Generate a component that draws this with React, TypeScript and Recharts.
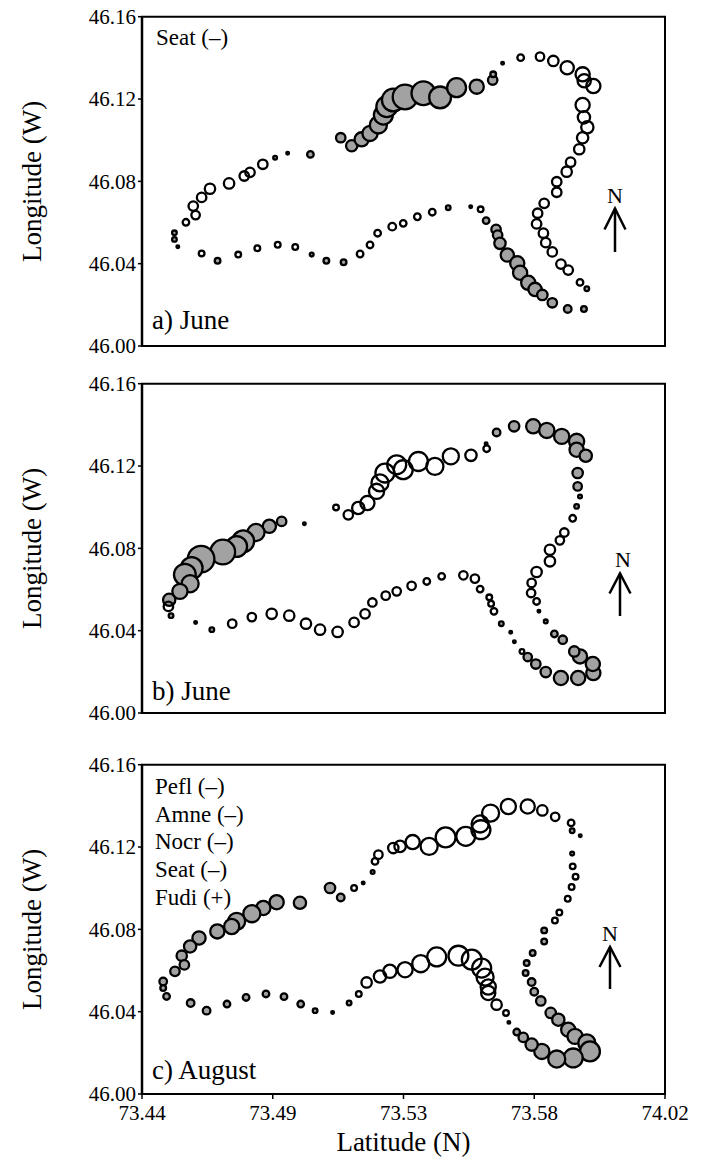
import React from "react";
import { ScatterChart, Scatter, XAxis, YAxis, ZAxis, ReferenceArea } from "recharts";

// ---- axis ticks ----
const xTickValues = [73.44, 73.49, 73.54, 73.59, 73.64];
const xTickLabels = ["73.44", "73.49", "73.53", "73.58", "74.02"];
const yTickValues = [46.0, 46.04, 46.08, 46.12, 46.16];
const yTickLabels = ["46.00", "46.04", "46.08", "46.12", "46.16"];

// ---- data: [latitude, longitude, abundance] ----
// a) June  (Seat)
const juneAFilled: number[][] = [
  [73.4524, 46.055, 6], [73.4524, 46.0518, 6], [73.4537, 46.0482, 2],
  [73.4909, 46.0915, 4], [73.4957, 46.0936, 2], [73.5044, 46.0931, 12],
  [73.516, 46.1012, 25], [73.5202, 46.0973, 36], [73.524, 46.1004, 56],
  [73.5272, 46.1033, 64], [73.5304, 46.1074, 81], [73.5323, 46.1122, 100],
  [73.5336, 46.1163, 121], [73.5361, 46.1195, 144], [73.5406, 46.121, 169],
  [73.5476, 46.1228, 156], [73.554, 46.1208, 132], [73.5603, 46.1255, 100],
  [73.568, 46.126, 56], [73.5741, 46.1292, 25], [73.5743, 46.132, 9],
  [73.5779, 46.1374, 2],
  [73.5571, 46.0672, 6], [73.5657, 46.0677, 2], [73.5716, 46.0609, 12],
  [73.5754, 46.0567, 25], [73.576, 46.0539, 25], [73.5769, 46.0499, 36],
  [73.5797, 46.0442, 49], [73.5835, 46.0402, 56], [73.5846, 46.0356, 56],
  [73.5877, 46.0307, 56], [73.5903, 46.0275, 49], [73.5931, 46.0248, 30],
  [73.5969, 46.021, 25], [73.6028, 46.018, 16], [73.609, 46.018, 9],
  [73.6101, 46.0278, 6],
  [73.5049, 46.0444, 4], [73.5105, 46.0414, 9], [73.5171, 46.0407, 9],
  [73.4689, 46.0414, 9],
];
const juneAOpen: number[][] = [
  [73.4568, 46.0601, 12], [73.4605, 46.0636, 20], [73.4596, 46.068, 25],
  [73.4628, 46.0722, 25], [73.466, 46.0764, 30], [73.4733, 46.079, 30],
  [73.4791, 46.0826, 25], [73.4813, 46.0844, 25], [73.4862, 46.0883, 25],
  [73.5848, 46.1401, 12], [73.5922, 46.1406, 20], [73.5973, 46.1385, 30],
  [73.6026, 46.1352, 49], [73.6085, 46.132, 56], [73.6091, 46.1289, 49],
  [73.6126, 46.1263, 56], [73.6085, 46.1171, 56], [73.609, 46.1111, 42],
  [73.6103, 46.1063, 42], [73.6085, 46.1012, 36], [73.6072, 46.0956, 30],
  [73.6039, 46.0893, 25], [73.6024, 46.0847, 30], [73.5986, 46.0798, 25],
  [73.5986, 46.0747, 25], [73.5938, 46.0693, 25], [73.5913, 46.0645, 25],
  [73.5909, 46.0593, 25], [73.5935, 46.0548, 25], [73.5944, 46.0502, 25],
  [73.5969, 46.0457, 25], [73.6002, 46.0398, 25], [73.603, 46.0369, 25],
  [73.6075, 46.0309, 12],
  [73.4628, 46.045, 9], [73.4768, 46.0444, 9], [73.4841, 46.0475, 9],
  [73.4919, 46.0492, 9], [73.4986, 46.0481, 9], [73.5234, 46.0447, 12],
  [73.5272, 46.0491, 12], [73.5301, 46.0548, 12], [73.5357, 46.058, 16],
  [73.5399, 46.0596, 12], [73.5453, 46.0628, 12], [73.551, 46.065, 12],
  [73.5695, 46.0664, 9],
];

// b) June
const juneBFilled: number[][] = [
  [73.4934, 46.0931, 25], [73.4887, 46.0907, 49], [73.4836, 46.0877, 81],
  [73.4787, 46.0834, 132], [73.4762, 46.0809, 121], [73.4709, 46.0782, 169],
  [73.4626, 46.0748, 196], [73.459, 46.0704, 132], [73.4564, 46.0672, 132],
  [73.4584, 46.0628, 81], [73.4545, 46.0591, 64], [73.4504, 46.055, 42],
  [73.4511, 46.0473, 6], [73.5021, 46.092, 2], [73.4605, 46.044, 2],
  [73.4667, 46.0405, 6],
  [73.5716, 46.1308, 2], [73.5756, 46.1363, 16], [73.5823, 46.1393, 30],
  [73.5896, 46.1393, 56], [73.5948, 46.1373, 64], [73.6005, 46.1344, 64],
  [73.6062, 46.132, 64], [73.6062, 46.1279, 56], [73.6097, 46.125, 42],
  [73.6066, 46.1166, 30], [73.6066, 46.1101, 20], [73.6075, 46.1052, 4],
  [73.6062, 46.1004, 6],
  [73.5774, 46.0434, 6], [73.581, 46.0392, 2], [73.5824, 46.0346, 2],
  [73.5875, 46.0272, 20], [73.5906, 46.0238, 25], [73.5944, 46.0199, 30],
  [73.6002, 46.017, 56], [73.6068, 46.017, 56], [73.6126, 46.0194, 56],
  [73.6124, 46.0238, 56], [73.6075, 46.0275, 56], [73.6053, 46.0299, 30],
  [73.6009, 46.0356, 20], [73.5977, 46.0384, 12], [73.5944, 46.0445, 4],
  [73.5918, 46.0494, 2],
];
const juneBOpen: number[][] = [
  [73.4501, 46.0518, 25], [73.4745, 46.0434, 20], [73.482, 46.0466, 20],
  [73.4896, 46.0482, 30], [73.4963, 46.0473, 30], [73.5027, 46.0434, 30],
  [73.5081, 46.0405, 30], [73.5148, 46.0394, 30], [73.5211, 46.044, 25],
  [73.5253, 46.0482, 25], [73.5281, 46.0537, 20], [73.5332, 46.057, 20],
  [73.5374, 46.0591, 20], [73.5431, 46.0618, 20], [73.5489, 46.0639, 12],
  [73.5546, 46.0664, 12], [73.5629, 46.0669, 20], [73.5673, 46.0653, 20],
  [73.5693, 46.0602, 12], [73.5728, 46.0562, 9], [73.5735, 46.0531, 9],
  [73.5746, 46.0494, 12], [73.5853, 46.0299, 6],
  [73.5909, 46.0542, 12], [73.5888, 46.0583, 20], [73.589, 46.0632, 20],
  [73.5909, 46.0685, 30], [73.596, 46.0737, 30], [73.596, 46.0793, 30],
  [73.5998, 46.0839, 20], [73.6015, 46.0877, 20], [73.6047, 46.0946, 12],
  [73.5142, 46.0999, 9], [73.5189, 46.0963, 25], [73.5227, 46.0996, 42],
  [73.5262, 46.102, 56], [73.5297, 46.1077, 64], [73.531, 46.1118, 81],
  [73.5329, 46.1166, 100], [73.5374, 46.1206, 100], [73.5399, 46.1182, 100],
  [73.5457, 46.1222, 100], [73.552, 46.1198, 81], [73.5581, 46.1247, 72],
  [73.5658, 46.1252, 36], [73.5718, 46.1284, 12],
];

// c) August
const augFilled: number[][] = [
  [73.5119, 46.1001, 30], [73.516, 46.0955, 16], [73.5246, 46.1025, 2],
  [73.5282, 46.1079, 4], [73.5004, 46.0929, 42], [73.4915, 46.0932, 56],
  [73.4864, 46.0904, 56], [73.482, 46.0876, 81], [73.4762, 46.0839, 81],
  [73.4743, 46.0814, 64], [73.4688, 46.079, 56], [73.4618, 46.0758, 49],
  [73.4584, 46.0717, 42], [73.4552, 46.0672, 30], [73.4562, 46.0627, 25],
  [73.4526, 46.0596, 25], [73.4481, 46.0547, 16], [73.4481, 46.0515, 9],
  [73.4494, 46.0474, 12], [73.4586, 46.0442, 16], [73.4647, 46.0405, 16],
  [73.4725, 46.0437, 12], [73.4798, 46.0469, 12], [73.4874, 46.0486, 12],
  [73.4943, 46.0473, 12], [73.5007, 46.0437, 12], [73.5062, 46.0405, 6],
  [73.5129, 46.0396, 2], [73.5192, 46.0442, 6],
  [73.6045, 46.1279, 6], [73.6076, 46.1255, 2], [73.6045, 46.1168, 4],
  [73.5938, 46.0795, 9], [73.5938, 46.0741, 9], [73.5894, 46.0685, 9],
  [73.5871, 46.0636, 9], [73.5867, 46.0588, 9],
  [73.589, 46.0544, 16], [73.59, 46.0497, 16], [73.5925, 46.0452, 25],
  [73.5963, 46.0394, 30], [73.5992, 46.0361, 42], [73.603, 46.0312, 56],
  [73.6056, 46.028, 64], [73.6101, 46.0248, 81], [73.6113, 46.0207, 110],
  [73.6049, 46.0175, 100], [73.5986, 46.017, 81], [73.5929, 46.0207, 64],
  [73.589, 46.024, 42], [73.5858, 46.0275, 25], [73.5833, 46.0301, 12],
  [73.5803, 46.0348, 2],
];
const augOpen: number[][] = [
  [73.5211, 46.1001, 9], [73.5291, 46.113, 12], [73.5304, 46.1163, 20],
  [73.5361, 46.1195, 30], [73.5387, 46.1203, 36], [73.5435, 46.1224, 56],
  [73.5498, 46.1203, 81], [73.5561, 46.1247, 110], [73.5638, 46.1252, 100],
  [73.5696, 46.1284, 100], [73.5693, 46.1312, 81], [73.5733, 46.1365, 81],
  [73.5801, 46.1397, 64], [73.5875, 46.1397, 56], [73.5931, 46.1378, 30],
  [73.598, 46.1347, 20], [73.6041, 46.1317, 12],
  [73.6047, 46.1106, 9], [73.6058, 46.1056, 9], [73.6043, 46.1006, 9],
  [73.6028, 46.0949, 9], [73.5996, 46.0882, 9], [73.5979, 46.0843, 9],
  [73.5792, 46.0394, 9], [73.5756, 46.0434, 30], [73.5724, 46.0491, 56],
  [73.5724, 46.052, 64], [73.5712, 46.0568, 81], [73.5699, 46.0612, 100],
  [73.5661, 46.0653, 110], [73.561, 46.0672, 110], [73.5527, 46.0666, 100],
  [73.5466, 46.0633, 81], [73.5406, 46.0604, 64], [73.5348, 46.0596, 49],
  [73.531, 46.0571, 42], [73.5259, 46.0542, 30], [73.5229, 46.0486, 9],
];

const toPts = (arr: number[][]) => arr.map(([x, y, z]) => ({ x, y, z }));

const SERIF = "'Liberation Serif', 'Times New Roman', serif";
const PLOT_H = 329.3;
const M_TOP = 16.7;

type PanelProps = {
  top: number;
  filled: number[][];
  open: number[][];
  showX: boolean;
};

const Panel = ({ top, filled, open, showX }: PanelProps) => {
  const xH = showX ? 79 : 20;
  const height = M_TOP + PLOT_H + xH;
  return (
    <div style={{ position: "absolute", left: 0, top, width: 702, height }}>
      <ScatterChart
        width={702}
        height={height}
        margin={{ top: M_TOP, right: 37, bottom: 0, left: 0 }}
      >
        <XAxis
          type="number"
          dataKey="x"
          domain={[73.44, 73.64]}
          ticks={xTickValues}
          interval={0}
          height={xH}
          tickSize={5}
          tickMargin={6}
          tickFormatter={(v: number, i: number) => xTickLabels[i]}
          tick={showX ? { fontFamily: SERIF, fontSize: 21, fill: "#000" } : false}
          axisLine={{ stroke: "#000", strokeWidth: 2 }}
          tickLine={{ stroke: "#000", strokeWidth: 1.5 }}
          label={
            showX
              ? {
                  content: (p: any) => {
                    const vb = p.viewBox;
                    return (
                      <text
                        x={vb.x + vb.width / 2}
                        y={vb.y + 57}
                        textAnchor="middle"
                        fontFamily={SERIF}
                        fontSize={27}
                        fill="#000"
                      >
                        Latitude (N)
                      </text>
                    );
                  },
                }
              : undefined
          }
        />
        <YAxis
          type="number"
          dataKey="y"
          domain={[46.0, 46.16]}
          ticks={yTickValues}
          interval={0}
          width={142}
          tickSize={4}
          tickMargin={2}
          tickFormatter={(v: number, i: number) => yTickLabels[i]}
          tick={{ fontFamily: SERIF, fontSize: 21, fill: "#000" }}
          axisLine={{ stroke: "#000", strokeWidth: 2.5 }}
          tickLine={{ stroke: "#000", strokeWidth: 1.5 }}
          label={{
            content: (p: any) => {
              const vb = p.viewBox;
              const cy = vb.y + vb.height / 2;
              return (
                <text
                  x={32}
                  y={cy}
                  transform={`rotate(-90, 32, ${cy})`}
                  textAnchor="middle"
                  dominantBaseline="central"
                  fontFamily={SERIF}
                  fontSize={27}
                  fill="#000"
                >
                  Longitude (W)
                </text>
              );
            },
          }}
        />
        <ZAxis type="number" dataKey="z" domain={[0, 200]} range={[0, 565]} />
        <ReferenceArea
          x1={73.44}
          x2={73.64}
          y1={46.0}
          y2={46.16}
          fill="none"
          stroke="#000"
          strokeWidth={2}
          ifOverflow="visible"
        />
        <Scatter
          data={toPts(filled)}
          fill="#a2a2a2"
          stroke="#000"
          strokeWidth={2.3}
          isAnimationActive={false}
        />
        <Scatter
          data={toPts(open)}
          fill="none"
          stroke="#000"
          strokeWidth={2.3}
          isAnimationActive={false}
        />
      </ScatterChart>
    </div>
  );
};

const Arrow = ({ x, nx, nBase, tip, end, arm }: { x: number; nx: number; nBase: number; tip: number; end: number; arm: number }) => (
  <g>
    <text x={nx} y={nBase} textAnchor="middle" fontFamily={SERIF} fontSize={22} fill="#000">
      N
    </text>
    <line x1={x} y1={tip} x2={x} y2={end} stroke="#000" strokeWidth={2.5} />
    <polyline
      points={`${x - 10.5},${tip + arm} ${x},${tip} ${x + 10.5},${tip + arm}`}
      fill="none"
      stroke="#000"
      strokeWidth={2.5}
    />
  </g>
);

export default function App() {
  const augLabels = ["Pefl (–)", "Amne (–)", "Nocr (–)", "Seat (–)", "Fudi (+)"];
  return (
    <div style={{ position: "absolute", left: 0, top: 0, width: 702, height: 1174, background: "#fff" }}>
      <Panel top={0} filled={juneAFilled} open={juneAOpen} showX={false} />
      <Panel top={384 - M_TOP} filled={juneBFilled} open={juneBOpen} showX={false} />
      <Panel top={765 - M_TOP} filled={augFilled} open={augOpen} showX={true} />
      <svg
        width={702}
        height={1174}
        style={{ position: "absolute", left: 0, top: 0, pointerEvents: "none" }}
      >
        <text x={156} y={44.5} fontFamily={SERIF} fontSize={23} fill="#000">Seat (–)</text>
        <text x={152} y={329} fontFamily={SERIF} fontSize={27} fill="#000">a) June</text>
        <text x={152} y={700} fontFamily={SERIF} fontSize={27} fill="#000">b) June</text>
        <text x={152} y={1079} fontFamily={SERIF} fontSize={27} fill="#000">c) August</text>
        {augLabels.map((t, i) => (
          <text key={t} x={155} y={794 + i * 27.7} fontFamily={SERIF} fontSize={23} fill="#000">
            {t}
          </text>
        ))}
        <Arrow x={615} nx={615} nBase={203} tip={208.5} end={252} arm={21} />
        <Arrow x={620} nx={623} nBase={567} tip={573.5} end={616} arm={20} />
        <Arrow x={610} nx={610} nBase={940.5} tip={947} end={989} arm={20} />
      </svg>
    </div>
  );
}
